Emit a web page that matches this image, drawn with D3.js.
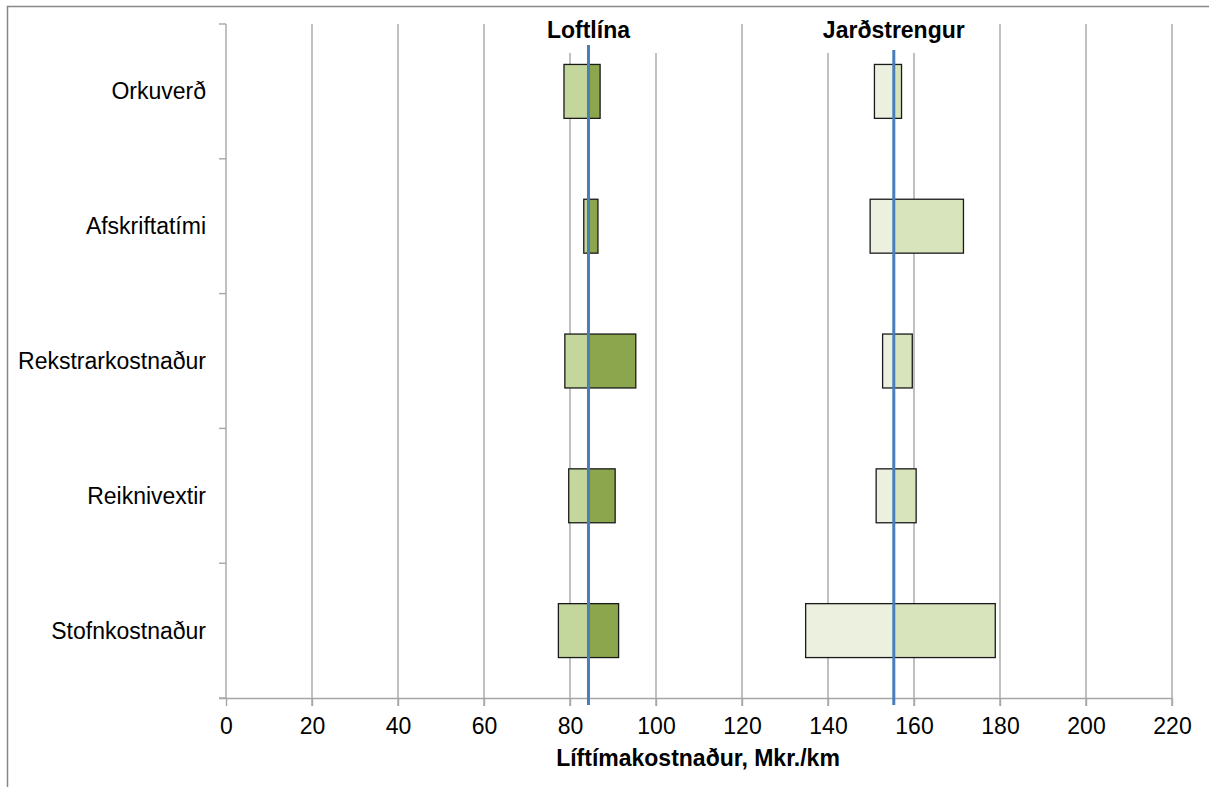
<!DOCTYPE html>
<html>
<head>
<meta charset="utf-8">
<script src="https://cdn.jsdelivr.net/npm/d3@7"></script>
<style>
  html, body { margin: 0; padding: 0; background: #fff; }
  svg { display: block; font-family: "Liberation Sans", Arial, sans-serif; }
</style>
</head>
<body>
<svg id="chart" width="1209" height="787"></svg>
<script>
// Lifetime cost sensitivity (tornado) for overhead line vs. underground cable
const categories = ["Orkuverð", "Afskriftatími", "Rekstrarkostnaður", "Reiknivextir", "Stofnkostnaður"];
const seriesNames = ["Loftlína", "Jarðstrengur"];
const baseValues = [84.3, 155.3];
const loftLow  = [78.6, 83.2, 78.8, 79.7, 77.3];
const loftHigh = [87.0, 86.5, 95.3, 90.5, 91.3];
const jardLow  = [150.8, 149.8, 152.7, 151.2, 134.8];
const jardHigh = [157.1, 171.5, 159.6, 160.5, 178.9];
const xTicks = [0, 20, 40, 60, 80, 100, 120, 140, 160, 180, 200, 220];
const xTitle = "Líftímakostnaður, Mkr./km";

(function () {
  const svg = d3.select("#chart");
  const plotLeft = 226, plotRight = 1172, plotTop = 24, plotBottom = 698;
  const fontSize = 23;

  const x = d3.scaleLinear().domain([0, 220]).range([plotLeft, plotRight]);
  const y = d3.scaleBand().domain(categories).range([plotTop, plotBottom])
    .paddingInner(0.6).paddingOuter(0.3);

  const gridColor = "#a6a6a6";

  // outer frame
  svg.append("rect").attr("x", 7.5).attr("y", 6.5).attr("width", 1220).attr("height", 800)
    .attr("fill", "none").attr("stroke", "#878787").attr("stroke-width", 1.5);

  // vertical gridlines (extending below the axis as tick marks)
  svg.append("g").selectAll("line").data(xTicks.slice(1)).join("line")
    .attr("x1", d => x(d)).attr("x2", d => x(d))
    .attr("y1", plotTop).attr("y2", plotBottom + 8)
    .attr("stroke", gridColor).attr("stroke-width", 1.4);

  // bottom axis
  const xAxis = svg.append("g").attr("transform", `translate(0,${plotBottom})`)
    .call(d3.axisBottom(x).tickValues(xTicks).tickSize(8).tickSizeOuter(0).tickPadding(0));
  xAxis.attr("font-size", null).attr("font-family", null);
  xAxis.select(".domain").attr("stroke", gridColor).attr("stroke-width", 1.4)
    .attr("d", `M${plotLeft - 7},0.5H${plotRight}`);
  xAxis.selectAll(".tick line").attr("stroke", gridColor).attr("stroke-width", 1.4);
  xAxis.selectAll(".tick text").attr("y", 36).attr("dy", null)
    .attr("font-size", fontSize).attr("fill", "#000");

  // left category axis
  const yAxis = svg.append("g").attr("transform", `translate(${plotLeft},0)`);
  yAxis.append("line").attr("x1", 0).attr("x2", 0).attr("y1", plotTop).attr("y2", plotBottom)
    .attr("stroke", gridColor).attr("stroke-width", 1.4);
  const edges = d3.range(categories.length + 1)
    .map(i => plotTop + i * (plotBottom - plotTop) / categories.length);
  yAxis.selectAll("line.tk").data(edges).join("line").attr("class", "tk")
    .attr("x1", -7).attr("x2", 0).attr("y1", d => d).attr("y2", d => d)
    .attr("stroke", gridColor).attr("stroke-width", 1.4);
  yAxis.selectAll("text").data(categories).join("text")
    .attr("x", -20).attr("y", d => y(d) + y.bandwidth() / 2)
    .attr("dy", "0.35em").attr("text-anchor", "end")
    .attr("font-size", fontSize).attr("fill", "#000").text(d => d);

  // series headers on white boxes
  const headerW = [150, 172];
  const hdr = svg.append("g");
  seriesNames.forEach((name, i) => {
    hdr.append("rect").attr("x", x(baseValues[i]) - headerW[i] / 2).attr("y", plotTop - 1)
      .attr("width", headerW[i]).attr("height", 30).attr("fill", "#fff");
    hdr.append("text").attr("x", x(baseValues[i])).attr("y", 38)
      .attr("text-anchor", "middle").attr("font-size", fontSize).attr("font-weight", "bold")
      .attr("fill", "#000").text(name);
  });

  // bars: low side and high side around each base value
  const series = [
    { base: baseValues[0], low: loftLow, high: loftHigh, cLow: "#c3d69b", cHigh: "#8ba64c" },
    { base: baseValues[1], low: jardLow, high: jardHigh, cLow: "#ebf1de", cHigh: "#d8e4bc" }
  ];
  const barG = svg.append("g");
  series.forEach(s => {
    categories.forEach((c, i) => {
      barG.append("rect")
        .attr("x", x(s.low[i])).attr("y", y(c))
        .attr("width", x(s.base) - x(s.low[i])).attr("height", y.bandwidth())
        .attr("fill", s.cLow).attr("stroke", "#1a1a1a").attr("stroke-width", 1.3);
      barG.append("rect")
        .attr("x", x(s.base)).attr("y", y(c))
        .attr("width", x(s.high[i]) - x(s.base)).attr("height", y.bandwidth())
        .attr("fill", s.cHigh).attr("stroke", "#1a1a1a").attr("stroke-width", 1.3);
    });
  });

  // base value lines
  const lineTops = [45, 50];
  baseValues.forEach((v, i) => {
    svg.append("line").attr("x1", x(v)).attr("x2", x(v))
      .attr("y1", lineTops[i]).attr("y2", plotBottom + 7)
      .attr("stroke", "#4a7ebb").attr("stroke-width", 3);
  });

  // axis title
  svg.append("text").attr("x", 698).attr("y", 766).attr("text-anchor", "middle")
    .attr("font-size", fontSize).attr("font-weight", "bold").attr("fill", "#000").text(xTitle);
})();
</script>
</body>
</html>
